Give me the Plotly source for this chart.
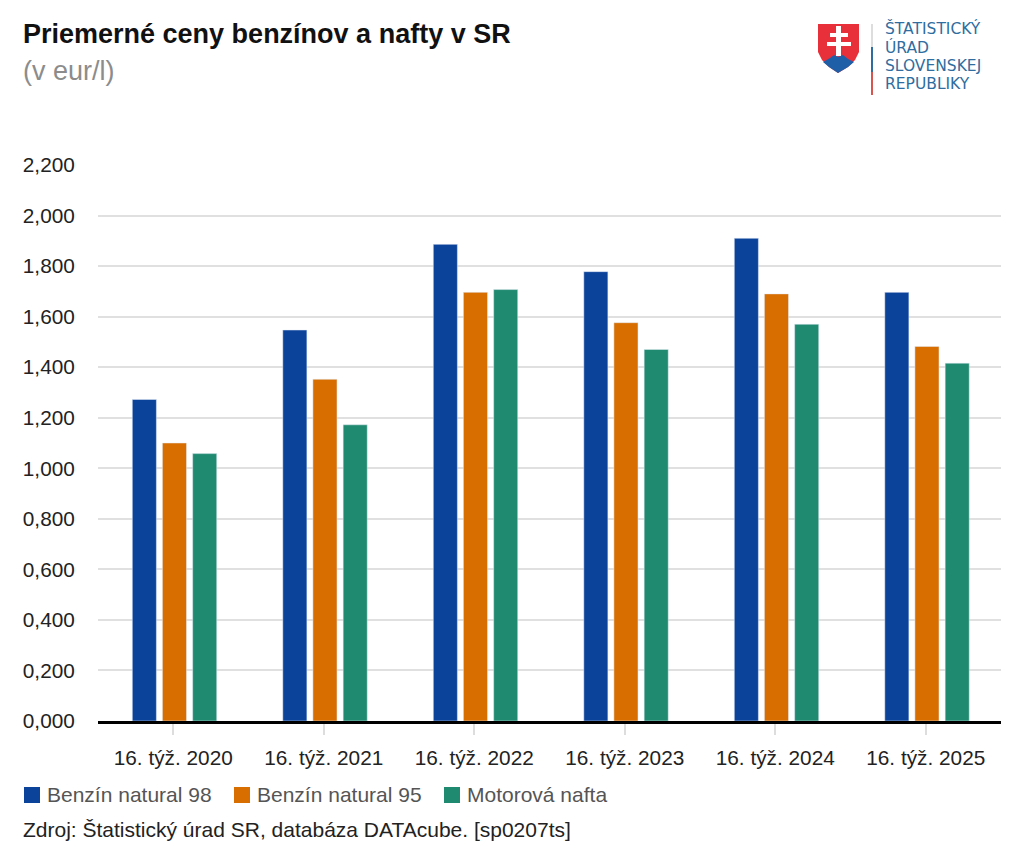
import plotly.graph_objects as go

categories = ["16. týž. 2020", "16. týž. 2021", "16. týž. 2022", "16. týž. 2023", "16. týž. 2024", "16. týž. 2025"]
natural_98 = [1.272, 1.547, 1.886, 1.778, 1.910, 1.696]
natural_95 = [1.100, 1.352, 1.696, 1.576, 1.690, 1.482]
nafta = [1.058, 1.172, 1.707, 1.470, 1.570, 1.416]
tick_values = [0, 0.2, 0.4, 0.6, 0.8, 1.0, 1.2, 1.4, 1.6, 1.8, 2.0, 2.2]
tick_labels = ["0,000", "0,200", "0,400", "0,600", "0,800", "1,000", "1,200", "1,400", "1,600", "1,800", "2,000", "2,200"]
series_names = ["Benzín natural 98", "Benzín natural 95", "Motorová nafta"]
series_colors = ["#0b429a", "#d86e00", "#1f8a70"]
logo_lines = ["ŠTATISTICKÝ", "ÚRAD", "SLOVENSKEJ", "REPUBLIKY"]


# page pixels to paper fractions
def px(x):
    return (x - 98) / 903


def py(y):
    return (721 - y) / 556


def path(points):
    return "M " + " L ".join(f"{px(x)} {py(y)}" for x, y in points) + " Z"


def rect(fig, x0, y0, x1, y1, color):
    fig.add_shape(type="rect", xref="paper", yref="paper", x0=px(x0), y0=py(y0), x1=px(x1), y1=py(y1),
                  fillcolor=color, line_width=0)


def label(fig, x, y, text, size, color, family="Liberation Sans, Arial, sans-serif"):
    fig.add_annotation(text=text, xref="paper", yref="paper", x=px(x), y=py(y), xanchor="left", yanchor="middle",
                       showarrow=False, font=dict(size=size, color=color, family=family))


fig = go.Figure()

fig.add_trace(go.Bar(x=categories, y=natural_98, name=series_names[0], marker_color=series_colors[0], width=0.16, offset=-0.272))
fig.add_trace(go.Bar(x=categories, y=natural_95, name=series_names[1], marker_color=series_colors[1], width=0.16, offset=-0.072))
fig.add_trace(go.Bar(x=categories, y=nafta, name=series_names[2], marker_color=series_colors[2], width=0.16, offset=0.129))

# Customize layout
fig.update_layout(
    width=1016,
    height=849,
    margin=dict(l=90, r=23, t=157, b=136),
    paper_bgcolor="white",
    plot_bgcolor="white",
    font=dict(family="Liberation Sans, Arial, sans-serif", size=20.8, color="#222222"),
    showlegend=False,
    xaxis=dict(showline=True, linecolor="#000000", linewidth=2.5, ticks="outside", ticklen=11, tickwidth=2,
               tickcolor="#dddddd", ticklabelstandoff=5),
    yaxis=dict(range=[0, 2.2], tickvals=tick_values, ticktext=tick_labels, gridcolor="#e0e0e0", gridwidth=2,
               zeroline=False, ticks="outside", ticklen=18, tickcolor="rgba(0,0,0,0)"),
)

# Title and source
label(fig, 21, 34, "<b>Priemerné ceny benzínov a nafty v SR</b>", 27, "#111111")
label(fig, 21, 71, "(v eur/l)", 27, "#8c8c8c")
label(fig, 21, 829, "Zdroj: Štatistický úrad SR, databáza DATAcube. [sp0207ts]", 21, "#222222")

# Legend drawn by hand, the swatches are bigger than the built in ones
for left, name, color in zip([24, 234, 444], series_names, series_colors):
    rect(fig, left, 787, left + 16, 803, color)
    label(fig, left + 21, 794, name, 21, "#555555")

# Logo
shield = [(818, 24), (859, 24), (859, 52), (855, 60), (848, 67), (838, 73), (829, 67), (822, 60), (818, 52)]
hills = [(823, 62), (830, 58), (834, 55), (838, 57), (843, 55), (848, 59), (854, 62), (848, 67), (838, 73), (829, 67)]
fig.add_shape(type="path", xref="paper", yref="paper", path=path(shield), fillcolor="#e8303a", line_width=0)
fig.add_shape(type="path", xref="paper", yref="paper", path=path(hills), fillcolor="#1f5fa8", line_width=0)
rect(fig, 836, 26, 841, 56, "#ffffff")
rect(fig, 830, 33, 848, 37, "#ffffff")
rect(fig, 827, 42, 851, 46, "#ffffff")
rect(fig, 871, 24, 873, 47, "#dddddd")
rect(fig, 871, 47, 873, 72, "#2f6da0")
rect(fig, 871, 72, 873, 95, "#d9534f")
for y, line in zip([29, 47, 66, 84], logo_lines):
    label(fig, 883, y, line, 15.5, "#2f6da0", "DejaVu Sans, sans-serif")

fig.write_html("out.html")
